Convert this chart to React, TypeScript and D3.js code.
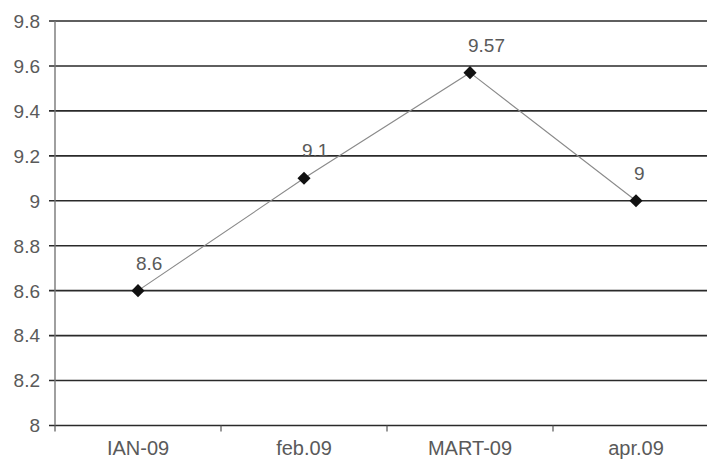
import React from "react";
import * as d3 from "d3";

const categories = ["IAN-09", "feb.09", "MART-09", "apr.09"];
const values = [8.6, 9.1, 9.57, 9];
const valueLabels = ["8.6", "9.1", "9.57", "9"];
const yTicks = [8, 8.2, 8.4, 8.6, 8.8, 9, 9.2, 9.4, 9.6, 9.8];
const yTickLabels = ["8", "8.2", "8.4", "8.6", "8.8", "9", "9.2", "9.4", "9.6", "9.8"];

const W = 707;
const H = 459;
const left = 55;
const right = 719;
const top = 21;
const bottom = 425.5;

export default function App() {
  const x = d3.scaleBand<string>().domain(categories).range([left, right]).padding(0);
  const y = d3.scaleLinear().domain([8, 9.8]).range([bottom, top]);
  const cx = (c: string) => (x(c) as number) + x.bandwidth() / 2;
  const line = d3
    .line<number>()
    .x((_, i) => cx(categories[i]))
    .y((v) => y(v));
  const diamond = d3.symbol().type(d3.symbolDiamond2).size(110)();
  const font = "Liberation Sans, Arial, sans-serif";
  const boundaries = categories.map((c) => x(c) as number);

  return (
    <svg
      width={W}
      height={H}
      style={{ position: "absolute", left: 0, top: 0, background: "#fff" }}
      fontFamily={font}
    >
      {yTicks.map((t, i) => (
        <g key={t}>
          <line x1={left - 6} x2={right} y1={y(t)} y2={y(t)} stroke="#2a2a2a" strokeWidth={1.6} />
          <text
            x={40}
            y={y(t)}
            dy="0.36em"
            textAnchor="end"
            fontSize={19}
            fill="#5a5a5a"
          >
            {yTickLabels[i]}
          </text>
        </g>
      ))}
      <line x1={left} x2={left} y1={top} y2={bottom} stroke="#777" strokeWidth={1.4} />
      {boundaries.map((b) => (
        <line key={b} x1={b} x2={b} y1={bottom} y2={bottom + 6} stroke="#555" strokeWidth={1.2} />
      ))}
      {categories.map((c) => (
        <text key={c} x={cx(c)} y={455} textAnchor="middle" fontSize={20} fill="#5a5a5a">
          {c}
        </text>
      ))}
      <path d={line(values) || ""} fill="none" stroke="#8a8a8a" strokeWidth={1.1} />
      {values.map((v, i) => (
        <path
          key={i}
          d={diamond || ""}
          transform={`translate(${cx(categories[i])},${y(v)})`}
          fill="#111"
        />
      ))}
      {values.map((v, i) => (
        <text
          key={"l" + i}
          x={cx(categories[i]) - 2}
          y={y(v) - 21}
          textAnchor="start"
          fontSize={19}
          fill="#5a5a5a"
        >
          {valueLabels[i]}
        </text>
      ))}
    </svg>
  );
}
